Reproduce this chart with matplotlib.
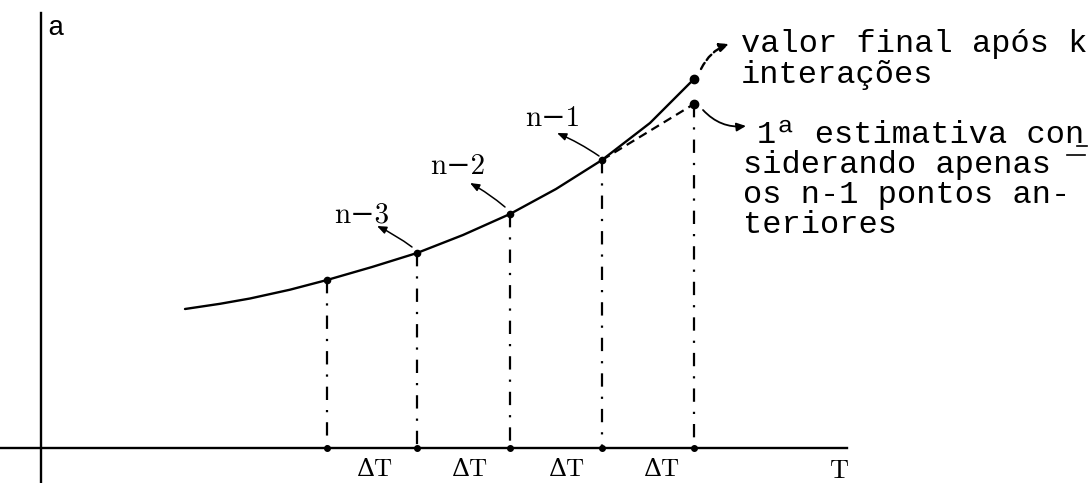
import matplotlib
matplotlib.use("Agg")
import matplotlib.pyplot as plt

# Curve (T, a), in pixel-like units (a axis pointing down)
curve_T = [185, 220, 250, 290, 327, 372, 417, 463, 510, 556, 602, 650, 694]
curve_a = [309, 303.8, 298.5, 289.7, 280, 267, 253, 235, 214, 189, 160, 123, 79]

point_T = [327, 417, 510, 602]
point_a = [280, 253, 214, 160]
final_T, final_a = 694, 79
est_T, est_a = 694, 104

axis_y = 448
axis_x = 41

point_labels = ["n\u22123", "n\u22122", "n\u22121"]
label_pos = [(362, 215), (458, 167), (553, 119)]
arrow_tail = [(412, 247), (505, 207), (599, 156)]
arrow_head = [(377, 226), (470, 183), (557, 133)]

dt_labels = ["\u0394T", "\u0394T", "\u0394T", "\u0394T"]
dt_x = [374, 469, 566, 661]

note1 = ["valor final após k", "interações"]
note1_x = [741, 741]
note1_y = [52, 83]
note2 = ["1ª estimativa con", "siderando apenas", "os n-1 pontos an-", "teriores"]
note2_x = [757, 743, 743, 743]
note2_y = [143, 173, 203, 233]

fig = plt.figure(figsize=(10.92, 4.83), dpi=100)
ax = fig.add_axes([0, 0, 1, 1])
ax.set_xlim(0, 1092)
ax.set_ylim(483, 0)
ax.axis("off")

mono = ["Liberation Mono", "DejaVu Sans Mono"]
serif = ["cmr10", "DejaVu Serif"]

# axes
ax.plot([axis_x, axis_x], [13, 483], color="black", lw=1.7)
ax.plot([0, 847], [axis_y, axis_y], color="black", lw=1.7)
ax.text(47, 35, "a", fontsize=20, family=mono, va="baseline", ha="left")
ax.text(839, 471, "T", fontsize=19, family=serif, va="center", ha="center")

# curve
ax.plot(curve_T, curve_a, color="black", lw=1.7, solid_capstyle="round",
        solid_joinstyle="round")

# vertical dash-dot lines
all_T = point_T + [est_T]
all_a = point_a + [est_a]
for t, a in zip(all_T, all_a):
    ax.plot([t, t], [a, axis_y], color="black", lw=1.6,
            linestyle=(0, (6, 4.5, 1, 4.5)))
    ax.plot([t], [axis_y], "o", color="black", ms=4)

# dashed estimate line
ax.plot([point_T[-1], est_T], [point_a[-1], est_a], color="black", lw=1.6,
        linestyle=(0, (4, 2.5)))

# points
ax.plot(point_T, point_a, "o", color="black", ms=4.5)
ax.plot([final_T, est_T], [final_a, est_a], "o", color="black", ms=6)

# point labels with arrows
for lab, (lx, ly), s, h in zip(point_labels, label_pos, arrow_tail, arrow_head):
    ax.text(lx, ly, lab, fontsize=21, family=serif, ha="center", va="center")
    ax.annotate("", xy=h, xytext=s,
                arrowprops=dict(arrowstyle="-|>,head_length=0.55,head_width=0.22",
                                color="black", lw=1.1, shrinkA=0, shrinkB=0,
                                connectionstyle="arc3,rad=0.05"))

# delta T labels
for x, lab in zip(dt_x, dt_labels):
    ax.text(x, 470, lab, fontsize=18, family=serif, ha="center", va="center")

# annotation arrows
ax.annotate("", xy=(729, 44), xytext=(701, 69),
            arrowprops=dict(arrowstyle="-|>,head_length=0.55,head_width=0.25",
                            color="black", lw=1.7, linestyle=(0, (3, 1.5)),
                            shrinkA=0, shrinkB=0,
                            connectionstyle="arc3,rad=-0.2"))
ax.annotate("", xy=(746, 126), xytext=(703, 110),
            arrowprops=dict(arrowstyle="-|>,head_length=0.55,head_width=0.25",
                            color="black", lw=1.3, shrinkA=0, shrinkB=0,
                            connectionstyle="arc3,rad=0.25"))

# notes
for line, x, y in zip(note1, note1_x, note1_y):
    ax.text(x, y, line, fontsize=23, family=mono, ha="left", va="baseline")
for line, x, y in zip(note2, note2_x, note2_y):
    ax.text(x, y, line, fontsize=23, family=mono, ha="left", va="baseline")

# typewriter hyphenation marks (underline under "n" of "con", raised dash after "apenas")
ax.plot([1067, 1085], [155, 155], color="black", lw=1.2)
ax.plot([1077, 1087], [146, 146], color="black", lw=1.2)

fig.savefig("out.png", dpi=100)
